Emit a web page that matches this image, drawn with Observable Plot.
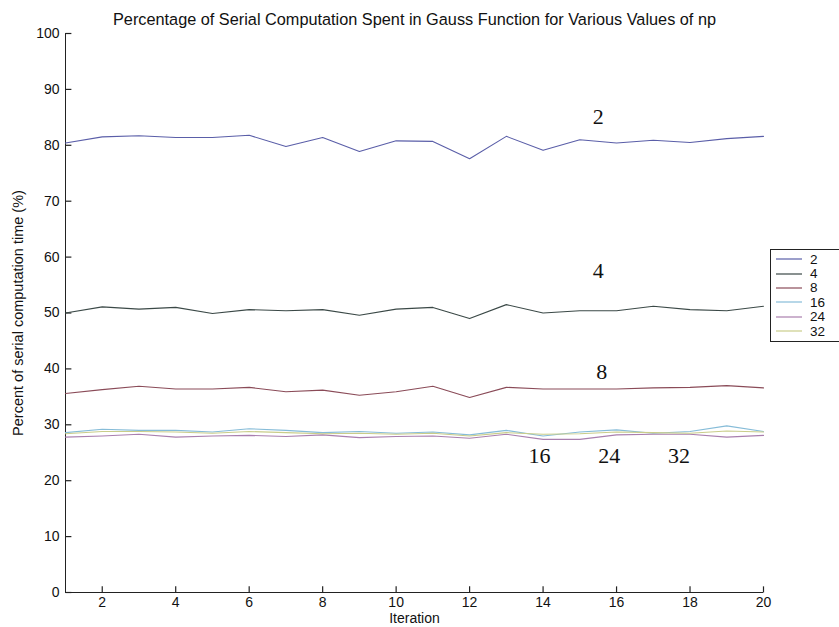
<!DOCTYPE html>
<html>
<head>
<meta charset="utf-8">
<script src="https://cdn.jsdelivr.net/npm/d3@7"></script>
<script src="https://cdn.jsdelivr.net/npm/@observablehq/plot@0.6"></script>
<style>
  body { margin: 0; background: #fff; }
  #wrap { position: relative; width: 839px; height: 627px; overflow: hidden; }
  #legend { position: absolute; left: 770px; top: 249px; width: 90px; background: #fff;
            border: 1px solid #222; font: 13.5px "Liberation Sans", Arial, sans-serif; color: #111; padding: 2px 0 3px 0; }
  #legend .row { display: flex; align-items: center; height: 14.4px; }
  #legend svg { margin-left: 5px; margin-right: 8px; }
</style>
</head>
<body>
<div id="wrap"></div>
<script>
// ---- data ----
const iterations = [1,2,3,4,5,6,7,8,9,10,11,12,13,14,15,16,17,18,19,20];
const seriesNames = ["2", "4", "8", "16", "24", "32"];
const np2  = [80.4,81.5,81.7,81.4,81.4,81.8,79.8,81.4,78.9,80.8,80.7,77.6,81.6,79.1,81.0,80.4,80.9,80.5,81.2,81.6];
const np4  = [50.0,51.1,50.7,51.0,49.9,50.6,50.4,50.6,49.6,50.7,51.0,49.0,51.5,50.0,50.4,50.4,51.2,50.6,50.4,51.2];
const np8  = [35.6,36.3,36.9,36.4,36.4,36.7,35.9,36.2,35.3,35.9,36.9,34.9,36.7,36.4,36.4,36.4,36.6,36.7,37.0,36.6];
const np16 = [28.6,29.2,29.0,29.0,28.7,29.3,29.0,28.6,28.8,28.5,28.7,28.2,29.0,28.0,28.7,29.1,28.5,28.8,29.8,28.8];
const np24 = [27.8,28.0,28.3,27.8,28.0,28.1,27.9,28.2,27.7,27.9,28.0,27.6,28.3,27.4,27.4,28.2,28.3,28.3,27.8,28.1];
const np32 = [28.4,28.8,28.8,28.7,28.5,28.8,28.6,28.4,28.5,28.3,28.5,28.0,28.6,28.3,28.4,28.7,28.6,28.5,28.9,28.7];
const xTicks = [2,4,6,8,10,12,14,16,18,20];
const yTicks = [0,10,20,30,40,50,60,70,80,90,100];
// inline annotation labels (text, iteration, percent)
const annText = ["2", "4", "8", "16", "24", "32"];
const annX = [15.5, 15.5, 15.6, 13.9, 15.8, 17.7];
const annY = [85, 57.5, 39.5, 24.5, 24.5, 24.5];
const titleText = "Percentage of Serial Computation Spent in Gauss Function for Various Values of np";
const xLabel = "Iteration";
const yLabel = "Percent of serial computation time (%)";

const colors = ["#5a5ea8", "#3b4947", "#8a4b58", "#86bcd8", "#a97fae", "#c9cd8a"];
const allSeries = [np2, np4, np8, np16, np24, np32];

const rows = [];
allSeries.forEach((vals, s) => vals.forEach((v, i) => rows.push({np: seriesNames[s], iter: iterations[i], pct: v})));
const anns = annText.map((t, i) => ({t, x: annX[i], y: annY[i]}));
const xTickRows = xTicks.map(v => ({v, a: 0, b: 1.1}));
const yTickRows = yTicks.map(v => ({v, a: 1, b: 1.16}));

const plot = Plot.plot({
  width: 839,
  height: 627,
  marginLeft: 65,
  marginRight: 76,
  marginTop: 33,
  marginBottom: 35,
  style: { fontFamily: "'Liberation Sans', Arial, sans-serif", fontSize: "14px", color: "#111", background: "#fff" },
  x: { domain: [1, 20], ticks: xTicks, tickSize: 0, tickPadding: 5, label: null },
  y: { domain: [0, 100], ticks: yTicks, tickSize: 0, tickPadding: 6, label: null },
  color: { domain: seriesNames, range: colors },
  marks: [
    Plot.ruleX([1], { stroke: "#222" }),
    Plot.ruleY([0], { stroke: "#222" }),
    Plot.link(yTickRows, { x1: "a", x2: "b", y1: "v", y2: "v", stroke: "#222", strokeWidth: 1.2 }),
    Plot.link(xTickRows, { x1: "v", x2: "v", y1: "a", y2: "b", stroke: "#222", strokeWidth: 1.2 }),
    Plot.line(rows, { x: "iter", y: "pct", z: "np", stroke: "np", strokeWidth: 1.1 }),
    Plot.text(anns, { x: "x", y: "y", text: "t", fontFamily: "'Liberation Serif', 'Times New Roman', serif", fontSize: 22, fill: "#111" }),
    Plot.text([titleText], { frameAnchor: "top", dy: -20, fontSize: 16.3, fill: "#111" }),
    Plot.text([xLabel], { frameAnchor: "bottom", dy: 30, fontSize: 14, fill: "#111" }),
    Plot.text([yLabel], { frameAnchor: "left", textAnchor: "middle", dx: -47, rotate: -90, fontSize: 14.5, fill: "#111" })
  ]
});
document.getElementById("wrap").appendChild(plot);

// legend
const leg = document.createElement("div");
leg.id = "legend";
seriesNames.forEach((n, i) => {
  const r = document.createElement("div");
  r.className = "row";
  r.innerHTML = `<svg width="26" height="4"><line x1="0" y1="2" x2="26" y2="2" stroke="${colors[i]}" stroke-width="1.2"/></svg><span>${n}</span>`;
  leg.appendChild(r);
});
document.getElementById("wrap").appendChild(leg);
</script>
</body>
</html>
